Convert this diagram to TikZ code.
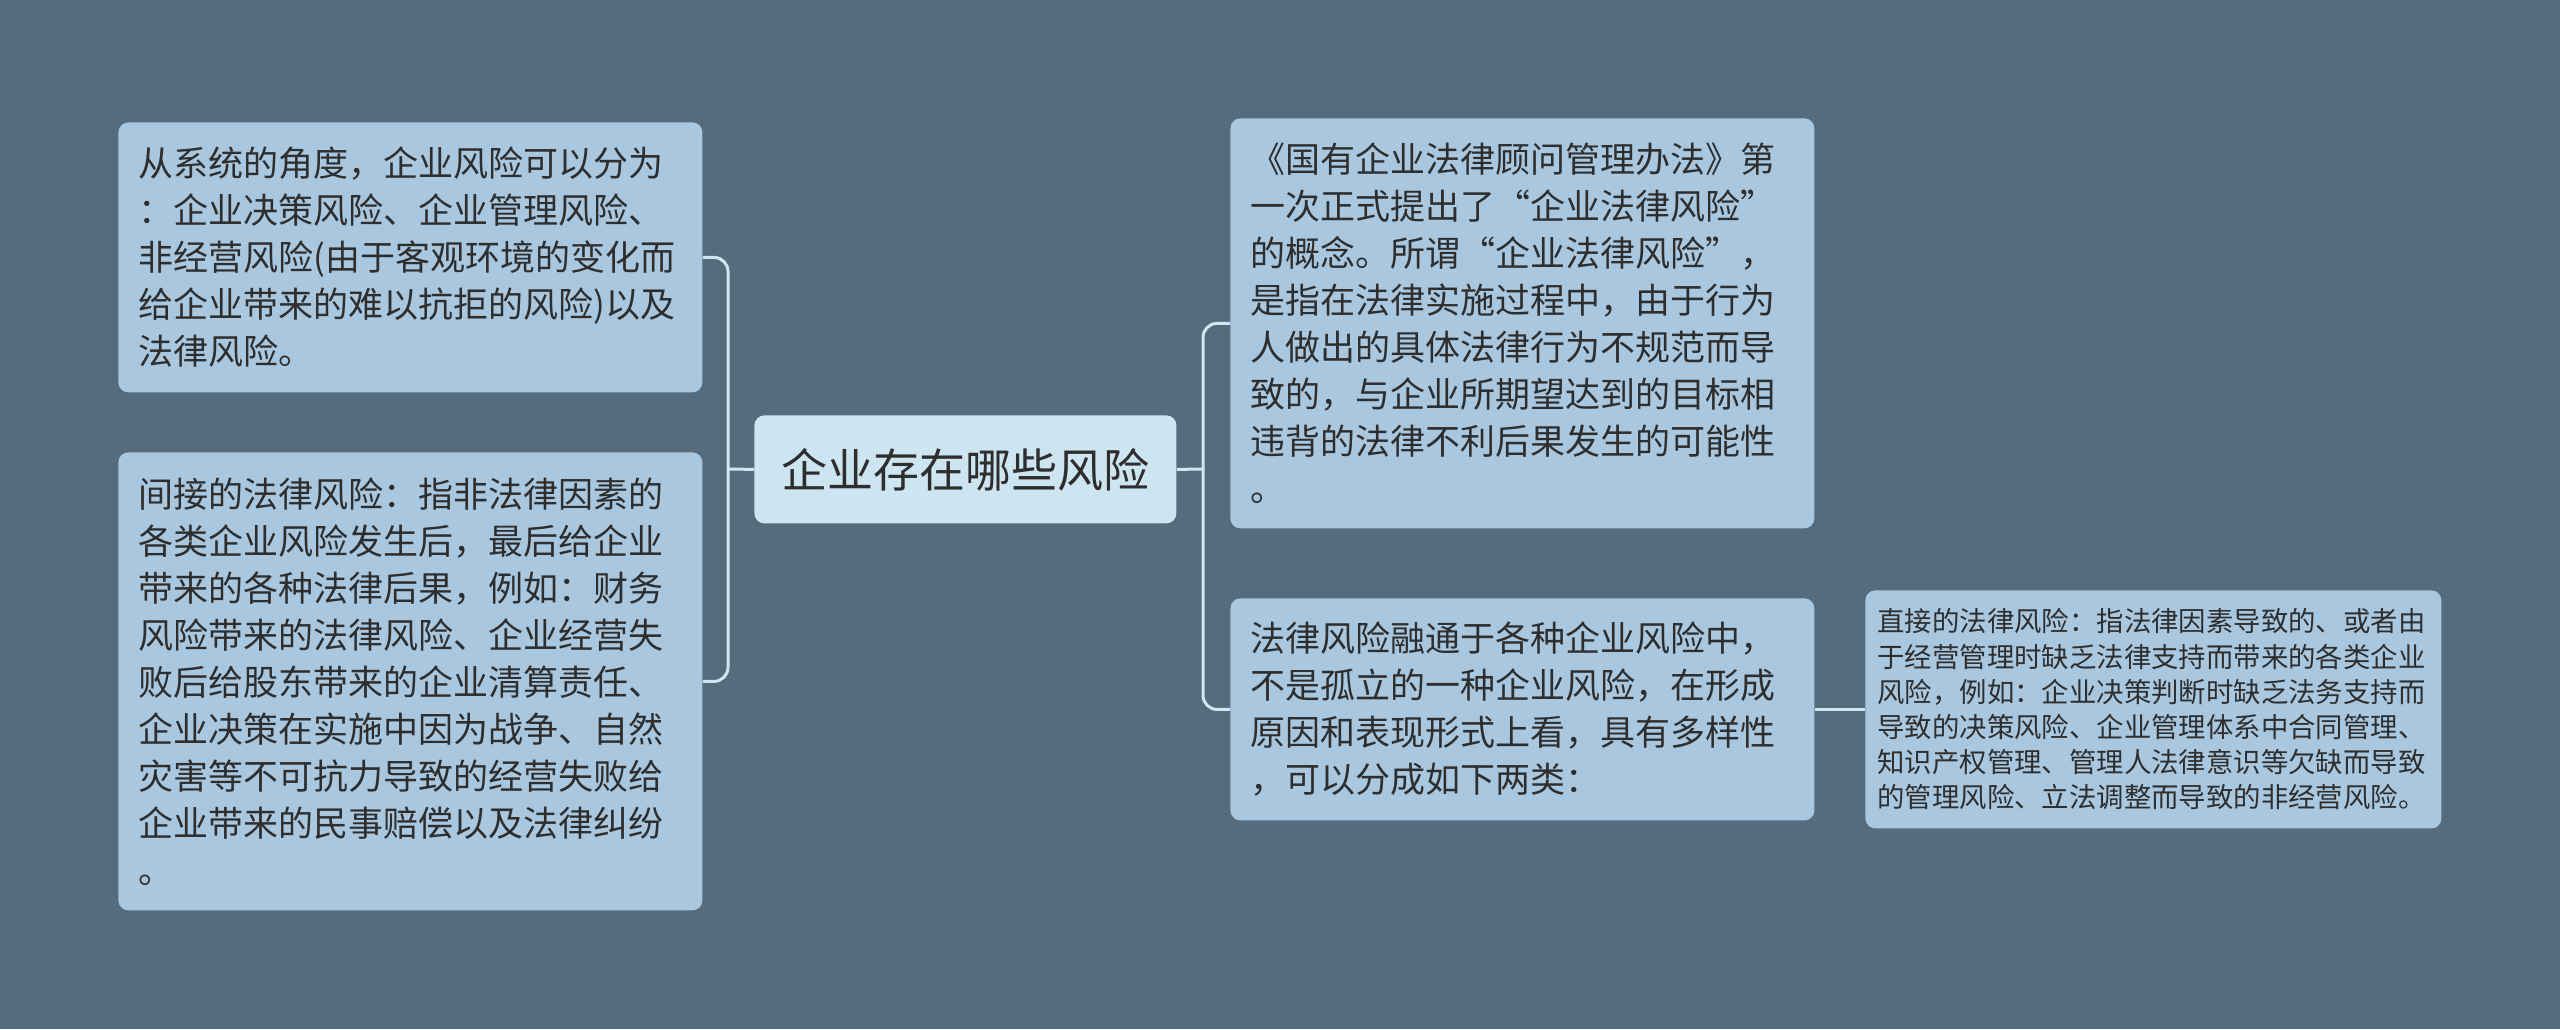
\documentclass[tikz,border=0pt]{standalone}
\usepackage{fontspec}
\setmainfont{Noto Sans CJK SC}
\definecolor{bgslate}{HTML}{566B7B}
\definecolor{boxblue}{HTML}{A9C8E0}
\definecolor{coreblue}{HTML}{CDE4F1}
\definecolor{linkblue}{HTML}{CFE6F3}
\definecolor{textgray}{HTML}{2E2E2E}
\begin{document}
\begin{tikzpicture}[x=0.5pt, y=-0.5pt,
	topic/.style={fill=boxblue, rounded corners=5pt, anchor=north west, align=left, inner xsep=10pt, inner ysep=0pt, text=textgray, font=\fontsize{17.5pt}{23.5pt}\selectfont},
	link/.style={draw=linkblue, line width=1.5pt, rounded corners=7pt}]
	
	\fill[bgslate] (0,0) rectangle (2560,1029);
	\useasboundingbox (0,0) rectangle (2560,1029);
	
	% centre
	\node[topic, fill=coreblue, align=center, minimum width=211pt, minimum height=54pt, font=\fontsize{23pt}{28pt}\selectfont] (core) at (754,415) {企业存在哪些风险};
	
	% left
	\node[topic, text width=272pt, minimum width=292pt, minimum height=135pt] (l1) at (118,122) {从系统的角度，企业风险可以分为\\：企业决策风险、企业管理风险、\\非经营风险(由于客观环境的变化而\\给企业带来的难以抗拒的风险)以及\\法律风险。};
	\node[topic, text width=272pt, minimum width=292pt, minimum height=229pt] (l2) at (118,452) {间接的法律风险：指非法律因素的\\各类企业风险发生后，最后给企业\\带来的各种法律后果，例如：财务\\风险带来的法律风险、企业经营失\\败后给股东带来的企业清算责任、\\企业决策在实施中因为战争、自然\\灾害等不可抗力导致的经营失败给\\企业带来的民事赔偿以及法律纠纷\\。};
	
	% right
	\node[topic, text width=272pt, minimum width=292pt, minimum height=205pt] (r1) at (1230,118) {《国有企业法律顾问管理办法》第\\一次正式提出了“企业法律风险”\\的概念。所谓“企业法律风险”，\\是指在法律实施过程中，由于行为\\人做出的具体法律行为不规范而导\\致的，与企业所期望达到的目标相\\违背的法律不利后果发生的可能性\\。};
	\node[topic, text width=272pt, minimum width=292pt, minimum height=111pt] (r2) at (1230,598) {法律风险融通于各种企业风险中，\\不是孤立的一种企业风险，在形成\\原因和表现形式上看，具有多样性\\，可以分成如下两类：};
	\node[topic, inner xsep=6pt, text width=276pt, minimum width=288pt, minimum height=119pt, font=\fontsize{13.7pt}{17.6pt}\selectfont] (r3) at (1865,590) {直接的法律风险：指法律因素导致的、或者由\\于经营管理时缺乏法律支持而带来的各类企业\\风险，例如：企业决策判断时缺乏法务支持而\\导致的决策风险、企业管理体系中合同管理、\\知识产权管理、管理人法律意识等欠缺而导致\\的管理风险、立法调整而导致的非经营风险。};
	
	\coordinate (jl) at (728,469);
	\coordinate (jr) at (1203,469);
	
	\draw[link] (l1.east) -| (jl) |- (l2.east);
	\draw[link] (core.west) -- (jl);
	\draw[link] (r1.west) -| (jr) |- (r2.west);
	\draw[link] (core.east) -- (jr);
	\draw[link] (r2.east) -- (r3.west);

\end{tikzpicture}
\end{document}
